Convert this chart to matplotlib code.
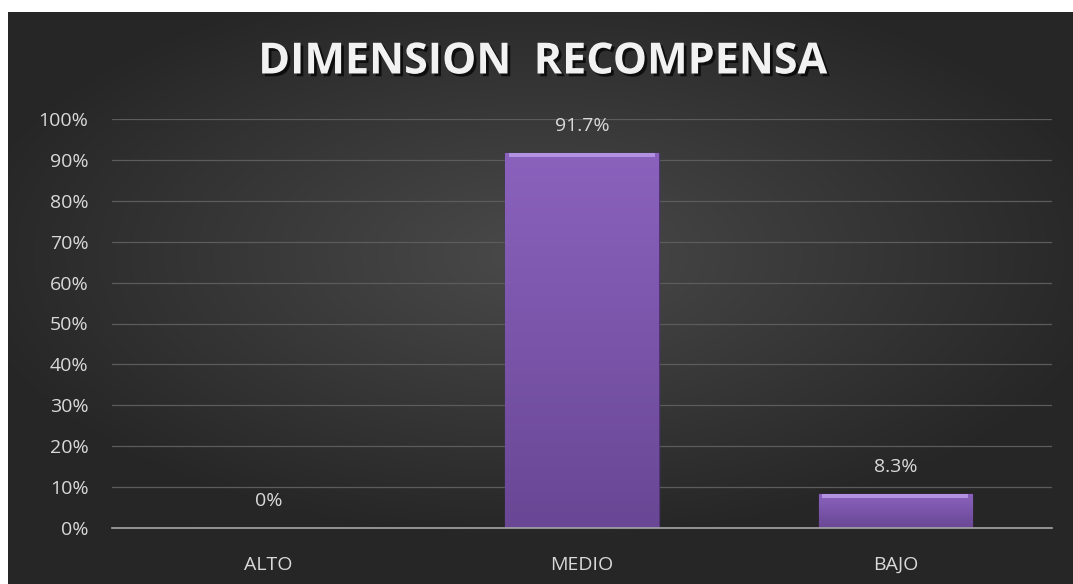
import matplotlib.pyplot as plt
import matplotlib.patheffects as pe
import numpy as np

categories = ["ALTO", "MEDIO", "BAJO"]
values = [0.0, 91.7, 8.3]
labels = ["0%", "91.7%", "8.3%"]
yticks = [0, 10, 20, 30, 40, 50, 60, 70, 80, 90, 100]

fig = plt.figure(figsize=(10.73, 5.84), dpi=100)
fig.patch.set_facecolor("white")

# dark background with radial light in the middle
bg = fig.add_axes([8 / 1073, 0, 1 - 8 / 1073, 1 - 12 / 584])
yy, xx = np.mgrid[-1:1:300j, -1:1:500j]
r = np.sqrt((xx / 1.1) ** 2 + ((yy + 0.15) / 1.0) ** 2)
shade = np.clip(1 - r, 0, 1)
lo = np.array([0.15, 0.15, 0.15])
hi = np.array([0.29, 0.29, 0.29])
img = lo + (hi - lo) * shade[..., None]
bg.imshow(img, aspect="auto", extent=[0, 1, 0, 1])
bg.set_axis_off()

ax = fig.add_axes([112 / 1073, 1 - 528 / 584, (1052 - 112) / 1073, (528 - 119) / 584])
ax.set_facecolor("none")
x = np.arange(len(categories))
bars = ax.bar(x, values, width=0.49, color="#7c56ab", edgecolor="#4f3475", linewidth=1.0, zorder=3)

# soft gradient + lighter bevel on each bar
cmap = plt.matplotlib.colors.LinearSegmentedColormap.from_list("p", ["#6a4795", "#8a62bd"])
for b in bars:
    h = b.get_height()
    if h <= 0:
        continue
    x0, w = b.get_x(), b.get_width()
    grad = np.linspace(0, 1, 100)[:, None] * np.ones((1, 20))
    im = ax.imshow(grad, cmap=cmap, aspect="auto", extent=[x0, x0 + w, 0, h], origin="lower", zorder=3)
    im.set_clip_path(b)
    ax.bar(b.get_x() + w / 2, 1.0, bottom=h - 1.0, width=w * 0.95, color="#b392e2", zorder=4, linewidth=0)

for xi, v, lab in zip(x, values, labels):
    ax.text(xi, v + 6.6, lab, ha="center", va="center", color="#d9d9d9", fontsize=14, family="Open Sans")

ax.set_xlim(-0.5, 2.5)
ax.set_ylim(0, 100)
ax.set_yticks(yticks)
ax.set_yticklabels([f"{t}%" for t in yticks])
ax.set_xticks(x)
ax.set_xticklabels(categories)
ax.tick_params(colors="#d9d9d9", labelsize=14, length=0)
ax.tick_params(axis="y", pad=17)
ax.tick_params(axis="x", pad=20)
for lab in ax.get_xticklabels() + ax.get_yticklabels():
    lab.set_family("Open Sans")
ax.yaxis.grid(True, color="#5c5c5c", linewidth=0.9, zorder=0)
ax.set_axisbelow(True)
for s in ["top", "right", "left"]:
    ax.spines[s].set_visible(False)
ax.spines["bottom"].set_color("#a6a6a6")
ax.spines["bottom"].set_linewidth(1.2)
ax.spines["bottom"].set_zorder(5)

fig.text(0.5 + 6 / 1073, 1 - 62 / 584, "DIMENSION  RECOMPENSA", ha="center", va="center",
         fontsize=31, fontweight="bold", color="#f2f2f2", family="Open Sans",
         path_effects=[pe.withSimplePatchShadow(offset=(2, -2), shadow_rgbFace="black", alpha=0.7)])

fig.savefig("out.png", dpi=100)
